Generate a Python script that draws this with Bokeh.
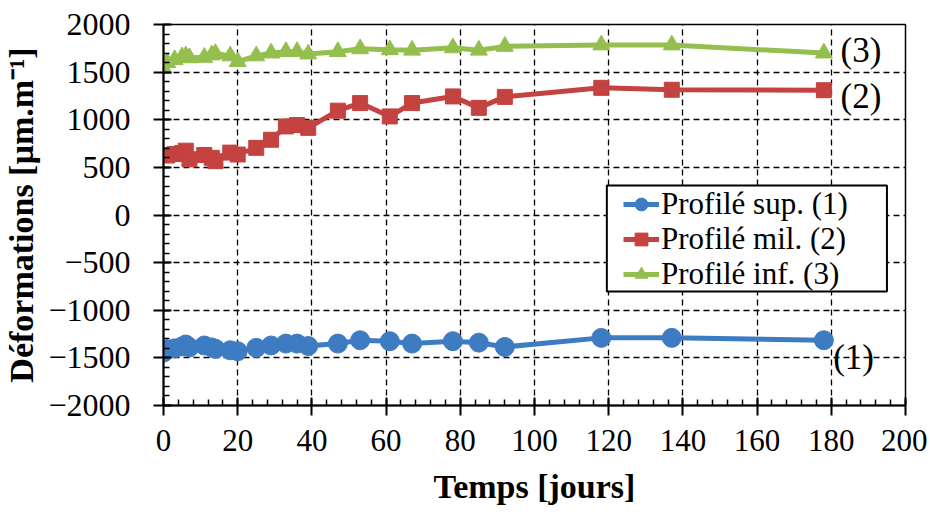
from bokeh.plotting import figure
from bokeh.models import SingleIntervalTicker, Legend, LegendItem, Range1d, BoxAnnotation
from bokeh.core.properties import value
from bokeh.embed import file_html
from bokeh.resources import INLINE

days = [0, 1, 3, 5, 6, 7, 11, 13, 14, 18, 20, 25, 29, 33, 36, 39, 47, 53, 61, 67, 78, 85, 92, 118, 137, 178]
sup = [-1445, -1410, -1400, -1380, -1360, -1390, -1370, -1390, -1405, -1420, -1430, -1395, -1370, -1350,
       -1350, -1375, -1350, -1315, -1325, -1350, -1325, -1340, -1385, -1290, -1290, -1315]
mil = [630, 625, 640, 650, 675, 585, 630, 600, 565, 655, 635, 705, 790, 930,
       945, 915, 1095, 1175, 1035, 1175, 1245, 1125, 1240, 1335, 1315, 1310]
inf = [1540, 1600, 1630, 1660, 1670, 1650, 1655, 1680, 1695, 1670, 1610, 1670, 1700, 1715,
       1715, 1690, 1715, 1745, 1735, 1730, 1755, 1730, 1770, 1785, 1785, 1700]
names = ["Profilé sup. (1)", "Profilé mil. (2)", "Profilé inf. (3)"]
tags = ["(1)", "(2)", "(3)"]
tag_x = [180.5, 182.5, 182.5]
tag_y = [-1500, 1240, 1725]
colors = ["#3D7CC2", "#C4423F", "#94BF4E"]

FONT = "Liberation Serif"

p = figure(frame_width=742, frame_height=381, output_backend="svg", toolbar_location=None,
           x_range=Range1d(0, 200), y_range=Range1d(-2000, 2000),
           min_border_left=150, min_border_right=22, min_border_top=24, min_border_bottom=90)
p.outline_line_color = "black"
p.outline_line_width = 1.5
p.background_fill_color = "white"
p.border_fill_color = "white"

markers = ["circle", "square", "triangle"]
sizes = [19, 15, 17]
series = [sup, mil, inf]
items = []
for s, c, m, sz, nm in zip(series, colors, markers, sizes, names):
    ln = p.line(days, s, line_color=c, line_width=5)
    sc = p.scatter(days, s, marker=m, size=sz, fill_color=c, line_color=c)
    items.append(LegendItem(label=nm, renderers=[ln, sc]))

p.text(x=tag_x, y=tag_y, text=tags, text_font=value(FONT), text_font_size="35px",
       text_align="left", text_baseline="middle", text_color="black")

for ax in (p.xaxis[0], p.yaxis[0]):
    ax.axis_line_color = "black"
    ax.axis_line_width = 2
    ax.major_tick_line_color = "black"
    ax.major_tick_line_width = 2
    ax.minor_tick_line_color = "black"
    ax.minor_tick_line_width = 1.5
    ax.major_tick_in = 8
    ax.major_tick_out = 10
    ax.minor_tick_in = 6
    ax.minor_tick_out = 0
    ax.major_label_text_font = FONT
    ax.major_label_text_color = "black"
    ax.axis_label_text_font = FONT
    ax.axis_label_text_font_size = "34px"
    ax.axis_label_text_font_style = "bold"
    ax.axis_label_text_color = "black"
p.xaxis.major_label_text_font_size = "31px"
p.yaxis.major_label_text_font_size = "32px"

p.xaxis.ticker = SingleIntervalTicker(interval=20, num_minor_ticks=5)
p.yaxis.ticker = SingleIntervalTicker(interval=500, num_minor_ticks=5)
p.xaxis.axis_label = "Temps [jours]"
p.yaxis.axis_label = "Déformations [µm.m⁻¹]"
p.xaxis.major_label_standoff = 14
p.yaxis.major_label_standoff = 23
p.xaxis.axis_label_standoff = 14
p.yaxis.axis_label_standoff = 5

for g in (p.xgrid[0], p.ygrid[0]):
    g.grid_line_color = "black"
    g.grid_line_dash = "6 4"
    g.grid_line_width = 1.3
p.xgrid.ticker = SingleIntervalTicker(interval=20)
p.ygrid.ticker = SingleIntervalTicker(interval=500)

# legend frame (in axis units), then one compact legend row per series
legend_box = BoxAnnotation(left=119.5, right=195.0, top=310, bottom=-803,
                           fill_color="white", fill_alpha=1.0,
                           line_color="black", line_width=2, line_alpha=1.0)
p.add_layout(legend_box)

row_bottoms = [183, 148, 113]
for it, yb in zip(items, row_bottoms):
    lg = Legend(items=[it], location=(460, yb))
    lg.border_line_alpha = 0
    lg.background_fill_alpha = 0
    lg.label_text_font = FONT
    lg.label_text_font_size = "31px"
    lg.label_text_color = "black"
    lg.glyph_width = 36
    lg.glyph_height = 32
    lg.label_standoff = 2
    lg.padding = 0
    lg.margin = 0
    p.add_layout(lg, "center")

open("out.html", "w").write(file_html(p, INLINE))
